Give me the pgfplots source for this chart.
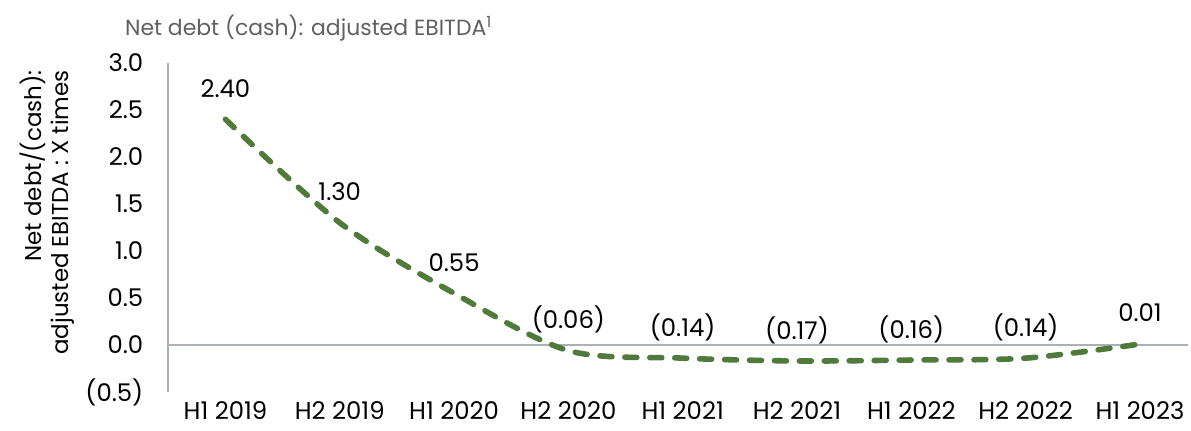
\documentclass[border=0pt]{standalone}
\usepackage{pgfplots}
\pgfplotsset{compat=1.18}
\usepackage{pgfplotstable}
\usepackage{fontspec}
\setmainfont{Poppins}
\definecolor{dgreen}{RGB}{80,122,58}
\definecolor{axgray}{RGB}{170,176,180}
\definecolor{titlegray}{RGB}{96,96,96}
\pgfplotstableread{
x y lab
0 2.40 2.40
1 1.30 1.30
2 0.55 0.55
3 -0.06 (0.06)
4 -0.14 (0.14)
5 -0.17 (0.17)
6 -0.16 (0.16)
7 -0.14 (0.14)
8 0.01 0.01
}\datatable
\begin{document}
\begin{tikzpicture}
\begin{axis}[
  name=ax,
  at={(0,0)}, anchor=south west,
  scale only axis, width=511.15pt, height=165pt,
  xmin=-0.5, xmax=8.42, ymin=-0.5, ymax=3.0,
  axis y line*=left, axis x line*=bottom,
  x axis line style={draw=none},
  y axis line style={draw=axgray, line width=1pt},
  xtick={0,...,8},
  xticklabels={H1 2019,H2 2019,H1 2020,H2 2020,H1 2021,H2 2021,H1 2022,H2 2022,H1 2023},
  ytick={-0.5,0,0.5,1,1.5,2,2.5,3},
  yticklabels={(0.5),0.0,0.5,1.0,1.5,2.0,2.5,3.0},
  major tick length=0,
  tick label style={font=\fontsize{12.2}{14}\selectfont, text=black},
  yticklabel style={xshift=-9pt},
  xticklabel style={yshift=-1.5pt},
  clip=false,
]
\addplot[axgray, line width=1pt, forget plot] coordinates {(-0.5,0) (8.42,0)};
\addplot[smooth, tension=0.5, line width=2.8pt, color=dgreen,
  dash pattern=on 6pt off 6.5pt, line cap=round,
  nodes near coords, point meta=explicit symbolic,
  every node near coord/.style={anchor=center, yshift=15.5pt, text=black,
    font=\fontsize{12.2}{14}\selectfont}]
  table[x=x, y=y, meta=lab]{\datatable};
\end{axis}
\node[anchor=west, text=titlegray, font=\fontsize{11}{13}\selectfont, inner sep=0pt]
  at ([shift={(-21.85pt,17.5pt)}]ax.north west) {Net debt (cash): adjusted EBITDA\textsuperscript{1}};
\node[rotate=90, anchor=east, align=right, font=\fontsize{11.5}{13.5}\selectfont, inner sep=0pt]
  at ([shift={(-60.6pt,-3.5pt)}]ax.north west) {Net debt/(cash):\\adjusted EBITDA : X times};
\path[use as bounding box] ([shift={(-84.35pt,-19.5pt)}]ax.south west) rectangle ([shift={(0pt,31.5pt)}]ax.north east);
\end{tikzpicture}
\end{document}
